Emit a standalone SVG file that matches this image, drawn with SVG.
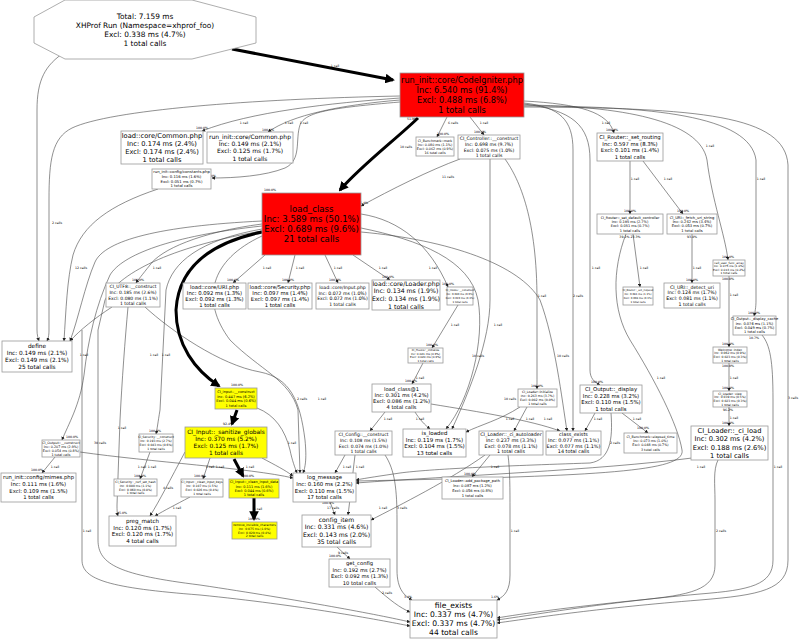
<svg xmlns="http://www.w3.org/2000/svg" width="800" height="639" viewBox="0 0 800 639">
<style>
text{font-family:"DejaVu Sans","Liberation Sans",sans-serif;fill:#000;text-anchor:middle}
.n rect,.n polygon{fill:#fff;stroke:#999;stroke-width:0.8}
.n.red rect{fill:#ff0000}
.n.yel rect{fill:#ffff00}
.e path{fill:none;stroke:#444;stroke-width:0.6;marker-end:url(#a)}
.e path.t{stroke:#000;stroke-width:3;marker-end:url(#b)}
.l text{font-size:3.2px}
</style>
<defs>
<marker id="a" viewBox="0 0 10 10" refX="9" refY="5" markerWidth="6" markerHeight="6" orient="auto"><path d="M0,0L10,5L0,10z" fill="#222"/></marker>
<marker id="b" viewBox="0 0 10 10" refX="8" refY="5" markerWidth="3.2" markerHeight="3.2" orient="auto"><path d="M0,0L10,5L0,10z" fill="#000"/></marker>
</defs>
<rect width="800" height="639" fill="#fff"/>
<g class="e" id="connectors">
<path d="M65,52 C45,65 37,80 37,110 L37,330 C37,335 38,338 39,341"/>
<path d="M400,96 C250,99 110,110 72,128 C52,138 49,160 49,200 L49,330 C49,336 48,339 47,341"/>
<path d="M158,189 C110,205 82,225 73,255 C67,280 66,310 64,341"/>
<path d="M400,98 C330,103 250,112 202,131"/>
<path d="M400,100 C340,105 292,115 268,132"/>
<path d="M400,102 C330,108 305,112 300,125 C295,140 302,160 285,168 C265,176 235,178 212,178"/>
<path d="M447,117 L437,137"/>
<path d="M470,117 L484,135"/>
<path d="M524,101 C580,104 608,112 614,133"/>
<path d="M524,103 C560,107 573,120 573,150 L573,420 C573,425 573,428 573,431"/>
<path d="M524,104 C572,110 590,125 590,160 L590,370 C590,378 594,382 600,385"/>
<path d="M524,105 C620,106 700,120 707,160 C712,200 725,235 728,260"/>
<path d="M524,106 C650,106 750,115 756,160 L756,300 C756,308 755,312 754,316"/>
<path d="M524,107 C700,108 785,115 788,165 L788,560 C788,590 760,595 700,600 C600,608 540,617 497,623"/>
<path d="M762,335 C770,345 773,360 773,400 L773,560 C773,585 750,590 700,594 C600,603 540,614 497,620"/>
<path d="M729,276 L729,347"/>
<path d="M729,363 L729,391"/>
<path d="M729,407 L729,426"/>
<path d="M718,460 C713,470 715,485 715,500 L715,565 C715,590 690,595 640,600 C570,607 520,614 497,618"/>
<path d="M692,458 C600,470 450,476 356,483"/>
<path d="M630,161 L630,214"/>
<path d="M643,161 L683,214"/>
<path d="M633,234 L640,287"/>
<path d="M626,234 C612,270 612,310 630,340 C655,380 678,425 682,450 C686,472 600,476 356,481"/>
<path d="M692,234 L692,283"/>
<path d="M622,413 L648,433"/>
<path d="M595,413 L585,431"/>
<path d="M611,413 C613,440 610,460 590,463 C500,466 430,469 400,473 C380,476 366,478 356,480"/>
<path d="M460,159 C430,170 390,190 361,206"/>
<path d="M490,159 L490,300 C490,340 470,390 452,429"/>
<path d="M505,159 C520,180 537,220 537,300 L537,375 C537,381 537,385 537,389"/>
<path d="M361,228 C420,240 470,260 478,300 C485,340 470,400 446,429"/>
<path d="M361,232 C450,240 520,265 540,300 C555,340 562,400 567,431"/>
<path d="M265,255 L233,283"/>
<path d="M295,255 L288,283"/>
<path d="M325,255 L338,283"/>
<path d="M353,255 L390,280"/>
<path d="M262,224 C200,232 160,250 150,265 C142,275 138,280 136,283"/>
<path d="M262,221 C160,226 105,240 95,262 C85,285 78,320 70,341"/>
<path d="M262,226 C170,236 122,255 110,275 C96,305 88,340 84,375 C80,405 68,425 62,440"/>
<path d="M262,229 C200,240 172,262 166,290 L160,410 C158,422 157,430 156,434"/>
<path d="M262,231 C180,245 120,270 105,300 L98,330 L98,540 C98,565 120,575 200,585 C300,600 380,615 410,622"/>
<path d="M82,330 L82,560 C82,580 110,588 200,595 C300,605 380,620 410,626"/>
<path d="M361,214 C400,220 430,245 448,287"/>
<path d="M458,305 L432,348"/>
<path d="M423,363 L412,384"/>
<path d="M415,412 C420,420 425,425 430,429"/>
<path d="M431,404 C480,412 530,420 560,431"/>
<path d="M385,412 L370,431"/>
<path d="M527,407 L514,431"/>
<path d="M520,407 C500,420 480,425 466,432"/>
<path d="M490,455 L472,477"/>
<path d="M508,455 C510,470 510,490 510,510 L510,575 C510,590 505,596 497,600"/>
<path d="M385,455 C395,470 397,490 397,520 L397,570 C397,590 405,596 412,600"/>
<path d="M355,455 C352,480 350,500 348,515"/>
<path d="M330,502 L335,515"/>
<path d="M337,547 L350,559"/>
<path d="M375,587 C390,600 400,608 410,612"/>
<path d="M210,458 L203,479"/>
<path d="M150,452 L140,479"/>
<path d="M80,452 C150,462 250,468 293,478"/>
<path d="M190,497 C175,505 165,510 155,516"/>
<path d="M55,457 L42,473"/>
<path d="M112,307 C95,318 80,330 70,341"/>
<path d="M128,307 C125,340 122,380 120,420 L117,505 C117,510 117,513 118,516"/>
<path d="M145,307 C170,330 220,365 260,372 C290,378 300,400 305,440 C307,460 305,468 303,473"/>
<path d="M257,408 C275,415 285,430 290,450 C292,460 295,468 297,473"/>
<path d="M262,458 C275,465 285,470 293,476"/>
<path d="M262,236 C210,260 200,300 230,340 C260,370 290,380 298,410 L300,473"/>
<path d="M345,455 L335,473"/>
<path d="M485,455 C450,480 400,505 371,520"/>
<path d="M185,452 C170,480 160,500 150,516"/>
<path class="t" d="M232,49 L393,80"/>
<path class="t" d="M418,118 C395,140 362,165 340,190"/>
<path class="t" d="M262,232 C200,245 178,275 176,310 C176,345 195,370 219,386"/>
<path class="t" d="M237,410 L232,424"/>
<path class="t" d="M234,459 L243,476"/>
<path class="t" d="M254,498 L254,519"/>
</g>
<g class="l" id="edge-labels">
<text x="335" y="67">1 call</text>
<text x="57" y="224">2 calls</text>
<text x="81" y="269">12 calls</text>
<text x="244" y="124">1 call</text>
<text x="289" y="124">1 call</text>
<text x="304" y="124">1 call</text>
<text x="453" y="124">6 calls</text>
<text x="484" y="124">1 call</text>
<text x="606" y="124">1 call</text>
<text x="406" y="148">10 calls</text>
<text x="578" y="297">2 calls</text>
<text x="596" y="269">1 call</text>
<text x="710" y="147">1 call</text>
<text x="761" y="180">1 call</text>
<text x="793" y="399">3 calls</text>
<text x="778" y="468">1 call</text>
<text x="734" y="296">1 call</text>
<text x="734" y="379">1 call</text>
<text x="734" y="419">1 call</text>
<text x="721" y="532">2 calls</text>
<text x="701" y="468">1 call</text>
<text x="635" y="180">1 call</text>
<text x="668" y="180">1 call</text>
<text x="644" y="269">1 call</text>
<text x="661" y="379">1 call</text>
<text x="697" y="269">1 call</text>
<text x="637" y="420">1 call</text>
<text x="598" y="420">1 call</text>
<text x="615" y="444">2 calls</text>
<text x="448" y="178">11 calls</text>
<text x="498" y="326">1 call</text>
<text x="542" y="297">1 call</text>
<text x="478" y="357">10 calls</text>
<text x="563" y="357">10 calls</text>
<text x="510" y="400">10 calls</text>
<text x="267" y="269">1 call</text>
<text x="300" y="269">1 call</text>
<text x="338" y="269">1 call</text>
<text x="383" y="269">1 call</text>
<text x="157" y="269">1 call</text>
<text x="84" y="356">1 call</text>
<text x="154" y="356">1 call</text>
<text x="166" y="356">1 call</text>
<text x="100" y="444">30 calls</text>
<text x="87" y="532">1 call</text>
<text x="433" y="269">1 call</text>
<text x="455" y="326">1 call</text>
<text x="420" y="379">1 call</text>
<text x="420" y="420">1 call</text>
<text x="388" y="420">1 call</text>
<text x="548" y="420">1 call</text>
<text x="530" y="420">1 call</text>
<text x="510" y="420">1 call</text>
<text x="495" y="468">1 call</text>
<text x="515" y="532">1 call</text>
<text x="402" y="509">3 calls</text>
<text x="383" y="509">1 call</text>
<text x="333" y="509">17 calls</text>
<text x="343" y="554">9 calls</text>
<text x="387" y="594">2 calls</text>
<text x="142" y="468">1 call</text>
<text x="152" y="468">1 call</text>
<text x="210" y="468">1 call</text>
<text x="220" y="468">1 call</text>
<text x="250" y="468">1 call</text>
<text x="177" y="509">1 call</text>
<text x="168" y="489">4 calls</text>
<text x="55" y="468">1 call</text>
<text x="122" y="429">1 call</text>
<text x="292" y="444">1 call</text>
<text x="302" y="400">2 calls</text>
<text x="322" y="400">1 call</text>
<text x="347" y="468">1 call</text>
<text x="360" y="468">1 call</text>
<text x="258" y="510">1 call</text>
<text x="202" y="129">100.0%</text>
<text x="268" y="131">100.0%</text>
<text x="210" y="177">100.0%</text>
<text x="443" y="135">100.0%</text>
<text x="480" y="133">100.0%</text>
<text x="612" y="131">100.0%</text>
<text x="630" y="212">100.0%</text>
<text x="683" y="212">100.0%</text>
<text x="630" y="238">39.1% 23.3%</text>
<text x="692" y="238">93.4%</text>
<text x="692" y="281">100.0%</text>
<text x="728" y="258">100.0%</text>
<text x="728" y="280">100.0%</text>
<text x="754" y="314">100.0%</text>
<text x="754" y="339">10.7%</text>
<text x="728" y="345">100.0%</text>
<text x="728" y="367">100.0%</text>
<text x="728" y="389">100.0%</text>
<text x="728" y="411">96.2%</text>
<text x="728" y="424">100.0%</text>
<text x="597" y="383">100.0%</text>
<text x="643" y="429">100.0%</text>
<text x="233" y="281">100.0%</text>
<text x="288" y="281">100.0%</text>
<text x="335" y="281">100.0%</text>
<text x="388" y="278">100.0%</text>
<text x="138" y="281">100.0%</text>
<text x="448" y="285">100.0%</text>
<text x="411" y="382">100.0%</text>
<text x="432" y="346">100.0%</text>
<text x="537" y="387">100.0%</text>
<text x="72" y="438">100.0%</text>
<text x="155" y="432">100.0%</text>
<text x="237" y="386">100.0%</text>
<text x="228" y="425">92.4%</text>
<text x="248" y="477">100.0%</text>
<text x="254" y="520">100.0%</text>
<text x="37" y="471">100.0%</text>
<text x="140" y="477">100.0%</text>
<text x="200" y="477">100.0%</text>
<text x="122" y="514">45.0%</text>
<text x="328" y="504">100.0%</text>
<text x="335" y="557">100.0%</text>
<text x="408" y="598">3.4%</text>
<text x="495" y="598">1.6%</text>
<text x="470" y="475">100.0%</text>
<text x="412" y="120">51.9%</text>
<text x="270" y="191">100.0%</text>
<text x="364" y="204">6.4%</text>
</g>
<g class="n" id="root"><polygon points="65,0 192,0 256,17 256,43 192,59 65,59 34,43 34,17"/>
<text font-size="7.4"><tspan x="145" y="18.6">Total: 7.159 ms</tspan><tspan x="145" y="27.9">XHProf Run (Namespace=xhprof_foo)</tspan><tspan x="145" y="36.9">Excl: 0.338 ms (4.7%)</tspan><tspan x="145" y="45.9">1 total calls</tspan></text></g>
<g class="n red" id="n-codeigniter"><rect x="400" y="73" width="124" height="44"/>
<text font-size="8.2"><tspan x="462" y="83.2">run_init::core/CodeIgniter.php</tspan><tspan x="462" y="93">Inc: 6.540 ms (91.4%)</tspan><tspan x="462" y="102.8">Excl: 0.488 ms (6.8%)</tspan><tspan x="462" y="112.6">1 total calls</tspan></text></g>
<g class="n red" id="n-load_class"><rect x="262" y="193" width="99" height="62"/>
<text font-size="8.6"><tspan x="311.5" y="212">load_class</tspan><tspan x="311.5" y="222">Inc: 3.589 ms (50.1%)</tspan><tspan x="311.5" y="232">Excl: 0.689 ms (9.6%)</tspan><tspan x="311.5" y="242">21 total calls</tspan></text></g>
<g class="n" id="n-load-common"><rect x="121" y="131" width="82" height="33"/>
<text font-size="6.7"><tspan x="162" y="137.8">load::core/Common.php</tspan><tspan x="162" y="145.8">Inc: 0.174 ms (2.4%)</tspan><tspan x="162" y="153.8">Excl: 0.174 ms (2.4%)</tspan><tspan x="162" y="161.8">1 total calls</tspan></text></g>
<g class="n" id="n-run-common"><rect x="207" y="132" width="86" height="31"/>
<text font-size="6"><tspan x="250" y="138.5">run_init::core/Common.php</tspan><tspan x="250" y="145.9">Inc: 0.149 ms (2.1%)</tspan><tspan x="250" y="153.3">Excl: 0.125 ms (1.7%)</tspan><tspan x="250" y="160.7">1 total calls</tspan></text></g>
<g class="n" id="n-constants"><rect x="152" y="169" width="59" height="20"/>
<text font-size="3.8"><tspan x="181.5" y="173.4">run_init::config/constants.php</tspan><tspan x="181.5" y="178">Inc: 0.116 ms (1.6%)</tspan><tspan x="181.5" y="182.6">Excl: 0.051 ms (0.7%)</tspan><tspan x="181.5" y="187.2">1 total calls</tspan></text></g>
<g class="n" id="n-bench-mark"><rect x="416" y="137" width="38" height="19"/>
<text font-size="3.3"><tspan x="435" y="141.7">CI_Benchmark::mark</tspan><tspan x="435" y="145.7">Inc: 0.080 ms (1.1%)</tspan><tspan x="435" y="149.7">Excl: 0.062 ms (0.9%)</tspan><tspan x="435" y="153.7">16 total calls</tspan></text></g>
<g class="n" id="n-controller"><rect x="458" y="135" width="62" height="24"/>
<text font-size="4.6"><tspan x="489" y="140.1">CI_Controller::__construct</tspan><tspan x="489" y="145.8">Inc: 0.698 ms (9.7%)</tspan><tspan x="489" y="151.5">Excl: 0.075 ms (1.0%)</tspan><tspan x="489" y="157.2">1 total calls</tspan></text></g>
<g class="n" id="n-set-routing"><rect x="597" y="133" width="66" height="28"/>
<text font-size="5.3"><tspan x="630" y="139.3">CI_Router::_set_routing</tspan><tspan x="630" y="145.7">Inc: 0.597 ms (8.3%)</tspan><tspan x="630" y="152.1">Excl: 0.101 ms (1.4%)</tspan><tspan x="630" y="158.5">1 total calls</tspan></text></g>
<g class="n" id="n-default-controller"><rect x="597" y="214" width="66" height="20"/>
<text font-size="3.5"><tspan x="630" y="218.8">CI_Router::_set_default_controller</tspan><tspan x="630" y="223.1">Inc: 0.195 ms (2.7%)</tspan><tspan x="630" y="227.4">Excl: 0.051 ms (0.7%)</tspan><tspan x="630" y="231.7">1 total calls</tspan></text></g>
<g class="n" id="n-fetch-uri"><rect x="667" y="214" width="50" height="20"/>
<text font-size="3.7"><tspan x="692" y="218.8">CI_URI::_fetch_uri_string</tspan><tspan x="692" y="223.1">Inc: 0.242 ms (3.4%)</tspan><tspan x="692" y="227.4">Excl: 0.053 ms (0.7%)</tspan><tspan x="692" y="231.7">1 total calls</tspan></text></g>
<g class="n" id="n-cufa"><rect x="713" y="260" width="32" height="16"/>
<text font-size="2.9"><tspan x="729" y="263.6">call_user_func_array</tspan><tspan x="729" y="267.2">Inc: 0.075 ms (1.0%)</tspan><tspan x="729" y="270.8">Excl: 0.013 ms (0.2%)</tspan><tspan x="729" y="274.4">1 total calls</tspan></text></g>
<g class="n" id="n-detect-uri"><rect x="664" y="283" width="56" height="25"/>
<text font-size="4.7"><tspan x="692" y="288.5">CI_URI::_detect_uri</tspan><tspan x="692" y="294.3">Inc: 0.124 ms (1.7%)</tspan><tspan x="692" y="300.1">Excl: 0.081 ms (1.1%)</tspan><tspan x="692" y="305.9">1 total calls</tspan></text></g>
<g class="n" id="n-display-cache"><rect x="733" y="316" width="43" height="19"/>
<text font-size="3.6"><tspan x="754.5" y="320.3">CI_Output::_display_cache</tspan><tspan x="754.5" y="324.6">Inc: 0.076 ms (1.1%)</tspan><tspan x="754.5" y="328.9">Excl: 0.049 ms (0.7%)</tspan><tspan x="754.5" y="333.2">1 total calls</tspan></text></g>
<g class="n" id="n-welcome"><rect x="713" y="347" width="34" height="16"/>
<text font-size="3"><tspan x="730" y="350.5">Welcome::index</tspan><tspan x="730" y="354.2">Inc: 0.062 ms (0.9%)</tspan><tspan x="730" y="357.9">Excl: 0.023 ms (0.3%)</tspan><tspan x="730" y="361.6">1 total calls</tspan></text></g>
<g class="n" id="n-loader-view"><rect x="713" y="391" width="34" height="16"/>
<text font-size="3"><tspan x="730" y="394.5">CI_Loader::view</tspan><tspan x="730" y="398.2">Inc: 0.039 ms (0.5%)</tspan><tspan x="730" y="401.9">Excl: 0.023 ms (0.3%)</tspan><tspan x="730" y="405.6">1 total calls</tspan></text></g>
<g class="n" id="n-ci-load"><rect x="691" y="426" width="77" height="34"/>
<text font-size="6.7"><tspan x="729.5" y="432.9">CI_Loader::_ci_load</tspan><tspan x="729.5" y="441.2">Inc: 0.302 ms (4.2%)</tspan><tspan x="729.5" y="449.5">Excl: 0.188 ms (2.6%)</tspan><tspan x="729.5" y="457.8">1 total calls</tspan></text></g>
<g class="n" id="n-output-display"><rect x="580" y="385" width="62" height="28"/>
<text font-size="5.4"><tspan x="611" y="391.1">CI_Output::_display</tspan><tspan x="611" y="397.6">Inc: 0.228 ms (3.2%)</tspan><tspan x="611" y="404.1">Excl: 0.110 ms (1.5%)</tspan><tspan x="611" y="410.6">1 total calls</tspan></text></g>
<g class="n" id="n-elapsed"><rect x="624" y="433" width="53" height="20"/>
<text font-size="3.3"><tspan x="650.5" y="437.7">CI_Benchmark::elapsed_time</tspan><tspan x="650.5" y="442">Inc: 0.073 ms (1.0%)</tspan><tspan x="650.5" y="446.3">Excl: 0.048 ms (0.7%)</tspan><tspan x="650.5" y="450.6">3 total calls</tspan></text></g>
<g class="n" id="n-class-exists"><rect x="546" y="431" width="55" height="24"/>
<text font-size="4.9"><tspan x="573.5" y="436.2">class_exists</tspan><tspan x="573.5" y="441.9">Inc: 0.077 ms (1.1%)</tspan><tspan x="573.5" y="447.6">Excl: 0.077 ms (1.1%)</tspan><tspan x="573.5" y="453.3">14 total calls</tspan></text></g>
<g class="n" id="n-autoloader"><rect x="479" y="431" width="64" height="24"/>
<text font-size="4.8"><tspan x="511" y="436.1">CI_Loader::_ci_autoloader</tspan><tspan x="511" y="441.8">Inc: 0.237 ms (3.3%)</tspan><tspan x="511" y="447.5">Excl: 0.078 ms (1.1%)</tspan><tspan x="511" y="453.2">1 total calls</tspan></text></g>
<g class="n" id="n-loader-init"><rect x="518" y="389" width="39" height="18"/>
<text font-size="3.2"><tspan x="537.5" y="393.4">CI_Loader::initialize</tspan><tspan x="537.5" y="397.2">Inc: 0.263 ms (3.7%)</tspan><tspan x="537.5" y="401">Excl: 0.002 ms (0.0%)</tspan><tspan x="537.5" y="404.8">1 total calls</tspan></text></g>
<g class="n" id="n-is-loaded"><rect x="403" y="429" width="63" height="28"/>
<text font-size="5.5"><tspan x="434.5" y="434.9">is_loaded</tspan><tspan x="434.5" y="441.6">Inc: 0.119 ms (1.7%)</tspan><tspan x="434.5" y="448.3">Excl: 0.104 ms (1.5%)</tspan><tspan x="434.5" y="455">13 total calls</tspan></text></g>
<g class="n" id="n-load-class-1"><rect x="372" y="384" width="59" height="28"/>
<text font-size="5.2"><tspan x="401.5" y="390.8">load_class@1</tspan><tspan x="401.5" y="396.8">Inc: 0.301 ms (4.2%)</tspan><tspan x="401.5" y="402.8">Excl: 0.086 ms (1.2%)</tspan><tspan x="401.5" y="408.8">4 total calls</tspan></text></g>
<g class="n" id="n-config-construct"><rect x="335" y="431" width="57" height="24"/>
<text font-size="4.5"><tspan x="363.5" y="435.7">CI_Config::__construct</tspan><tspan x="363.5" y="441.6">Inc: 0.108 ms (1.5%)</tspan><tspan x="363.5" y="447.5">Excl: 0.074 ms (1.0%)</tspan><tspan x="363.5" y="453.4">1 total calls</tspan></text></g>
<g class="n yel" id="n-input-construct"><rect x="215" y="388" width="42" height="21"/>
<text font-size="3.6"><tspan x="236" y="393">CI_Input::__construct</tspan><tspan x="236" y="397.5">Inc: 0.447 ms (6.2%)</tspan><tspan x="236" y="402">Excl: 0.044 ms (0.6%)</tspan><tspan x="236" y="406.5">1 total calls</tspan></text></g>
<g class="n yel" id="n-sanitize"><rect x="185" y="427" width="82" height="31"/>
<text font-size="5.9"><tspan x="226" y="434.4">CI_Input::_sanitize_globals</tspan><tspan x="226" y="441.2">Inc: 0.370 ms (5.2%)</tspan><tspan x="226" y="448">Excl: 0.125 ms (1.7%)</tspan><tspan x="226" y="454.8">1 total calls</tspan></text></g>
<g class="n yel" id="n-clean-data"><rect x="229" y="479" width="50" height="19"/>
<text font-size="3.5"><tspan x="254" y="483.3">CI_Input::_clean_input_data</tspan><tspan x="254" y="487.6">Inc: 0.111 ms (1.6%)</tspan><tspan x="254" y="491.9">Excl: 0.044 ms (0.6%)</tspan><tspan x="254" y="496.2">1 total calls</tspan></text></g>
<g class="n yel" id="n-remove-invisible"><rect x="232" y="522" width="45" height="17"/>
<text font-size="3"><tspan x="254.5" y="525.9">remove_invisible_characters</tspan><tspan x="254.5" y="529.7">Inc: 0.075 ms (1.0%)</tspan><tspan x="254.5" y="533.5">Excl: 0.029 ms (0.4%)</tspan><tspan x="254.5" y="537.3">2 total calls</tspan></text></g>
<g class="n" id="n-output-construct"><rect x="42" y="440" width="38" height="17"/>
<text font-size="3.3"><tspan x="61" y="443.8">CI_Output::__construct</tspan><tspan x="61" y="447.7">Inc: 0.207 ms (2.9%)</tspan><tspan x="61" y="451.6">Excl: 0.054 ms (0.8%)</tspan><tspan x="61" y="455.5">1 total calls</tspan></text></g>
<g class="n" id="n-security-construct"><rect x="139" y="434" width="34" height="18"/>
<text font-size="3"><tspan x="156" y="438">CI_Security::__construct</tspan><tspan x="156" y="442">Inc: 0.193 ms (2.7%)</tspan><tspan x="156" y="446">Excl: 0.043 ms (0.6%)</tspan><tspan x="156" y="450">1 total calls</tspan></text></g>
<g class="n" id="n-csrf"><rect x="114" y="479" width="43" height="17"/>
<text font-size="3"><tspan x="135.5" y="482.9">CI_Security::_csrf_set_hash</tspan><tspan x="135.5" y="486.7">Inc: 0.080 ms (1.1%)</tspan><tspan x="135.5" y="490.5">Excl: 0.060 ms (0.8%)</tspan><tspan x="135.5" y="494.3">1 total calls</tspan></text></g>
<g class="n" id="n-clean-keys"><rect x="181" y="479" width="42" height="18"/>
<text font-size="3"><tspan x="202" y="483.2">CI_Input::_clean_input_keys</tspan><tspan x="202" y="487.1">Inc: 0.107 ms (1.5%)</tspan><tspan x="202" y="491">Excl: 0.026 ms (0.4%)</tspan><tspan x="202" y="494.9">1 total calls</tspan></text></g>
<g class="n" id="n-preg-match"><rect x="109" y="516" width="67" height="30"/>
<text font-size="5.6"><tspan x="142.5" y="522.8">preg_match</tspan><tspan x="142.5" y="529.6">Inc: 0.120 ms (1.7%)</tspan><tspan x="142.5" y="536.4">Excl: 0.120 ms (1.7%)</tspan><tspan x="142.5" y="543.2">4 total calls</tspan></text></g>
<g class="n" id="n-mimes"><rect x="1" y="473" width="75" height="29"/>
<text font-size="5.3"><tspan x="38.5" y="479.3">run_init::config/mimes.php</tspan><tspan x="38.5" y="486">Inc: 0.111 ms (1.6%)</tspan><tspan x="38.5" y="492.7">Excl: 0.109 ms (1.5%)</tspan><tspan x="38.5" y="499.4">1 total calls</tspan></text></g>
<g class="n" id="n-log-message"><rect x="293" y="473" width="63" height="29"/>
<text font-size="5.4"><tspan x="324.5" y="479.3">log_message</tspan><tspan x="324.5" y="486">Inc: 0.160 ms (2.2%)</tspan><tspan x="324.5" y="492.7">Excl: 0.110 ms (1.5%)</tspan><tspan x="324.5" y="499.4">17 total calls</tspan></text></g>
<g class="n" id="n-config-item"><rect x="302" y="515" width="69" height="32"/>
<text font-size="6.1"><tspan x="336.5" y="521.9">config_item</tspan><tspan x="336.5" y="529.4">Inc: 0.331 ms (4.6%)</tspan><tspan x="336.5" y="536.9">Excl: 0.143 ms (2.0%)</tspan><tspan x="336.5" y="544.4">35 total calls</tspan></text></g>
<g class="n" id="n-get-config"><rect x="329" y="559" width="61" height="28"/>
<text font-size="5.2"><tspan x="359.5" y="565.1">get_config</tspan><tspan x="359.5" y="571.6">Inc: 0.192 ms (2.7%)</tspan><tspan x="359.5" y="578.1">Excl: 0.092 ms (1.3%)</tspan><tspan x="359.5" y="584.6">10 total calls</tspan></text></g>
<g class="n" id="n-file-exists"><rect x="410" y="600" width="87" height="38"/>
<text font-size="7.6"><tspan x="453.5" y="608.2">file_exists</tspan><tspan x="453.5" y="617.2">Inc: 0.337 ms (4.7%)</tspan><tspan x="453.5" y="626.2">Excl: 0.337 ms (4.7%)</tspan><tspan x="453.5" y="635.2">44 total calls</tspan></text></g>
<g class="n" id="n-add-package"><rect x="442" y="477" width="61" height="22"/>
<text font-size="3.7"><tspan x="472.5" y="482.1">CI_Loader::add_package_path</tspan><tspan x="472.5" y="486.9">Inc: 0.087 ms (1.2%)</tspan><tspan x="472.5" y="491.7">Excl: 0.056 ms (0.8%)</tspan><tspan x="472.5" y="496.5">1 total calls</tspan></text></g>
<g class="n" id="n-utf8"><rect x="106" y="283" width="54" height="24"/>
<text font-size="4.5"><tspan x="133" y="287.9">CI_UTF8::__construct</tspan><tspan x="133" y="293.7">Inc: 0.185 ms (2.6%)</tspan><tspan x="133" y="299.5">Excl: 0.080 ms (1.1%)</tspan><tspan x="133" y="305.3">1 total calls</tspan></text></g>
<g class="n" id="n-uri-php"><rect x="183" y="283" width="63" height="26"/>
<text font-size="5.3"><tspan x="214.5" y="288.6">load::core/URI.php</tspan><tspan x="214.5" y="294.8">Inc: 0.092 ms (1.3%)</tspan><tspan x="214.5" y="301">Excl: 0.092 ms (1.3%)</tspan><tspan x="214.5" y="307.2">1 total calls</tspan></text></g>
<g class="n" id="n-security-php"><rect x="248" y="283" width="64" height="26"/>
<text font-size="5.3"><tspan x="280" y="288.6">load::core/Security.php</tspan><tspan x="280" y="294.8">Inc: 0.097 ms (1.4%)</tspan><tspan x="280" y="301">Excl: 0.097 ms (1.4%)</tspan><tspan x="280" y="307.2">1 total calls</tspan></text></g>
<g class="n" id="n-input-php"><rect x="316" y="283" width="53" height="26"/>
<text font-size="4.6"><tspan x="342.5" y="289">load::core/Input.php</tspan><tspan x="342.5" y="294.7">Inc: 0.072 ms (1.0%)</tspan><tspan x="342.5" y="300.4">Excl: 0.072 ms (1.0%)</tspan><tspan x="342.5" y="306.1">1 total calls</tspan></text></g>
<g class="n" id="n-loader-php"><rect x="372" y="280" width="68" height="30"/>
<text font-size="6.2"><tspan x="406" y="285.8">load::core/Loader.php</tspan><tspan x="406" y="293.4">Inc: 0.134 ms (1.9%)</tspan><tspan x="406" y="301">Excl: 0.134 ms (1.9%)</tspan><tspan x="406" y="308.6">1 total calls</tspan></text></g>
<g class="n" id="n-hooks-construct"><rect x="447" y="287" width="26" height="18"/>
<text font-size="2.6"><tspan x="460" y="291.4">CI_Hooks::__construct</tspan><tspan x="460" y="295.1">Inc: 0.040 ms (0.6%)</tspan><tspan x="460" y="298.8">Excl: 0.019 ms (0.3%)</tspan><tspan x="460" y="302.5">1 total calls</tspan></text></g>
<g class="n" id="n-set-request"><rect x="623" y="287" width="30" height="18"/>
<text font-size="2.6"><tspan x="638" y="291.4">CI_Router::_set_request</tspan><tspan x="638" y="295.1">Inc: 0.081 ms (1.1%)</tspan><tspan x="638" y="298.8">Excl: 0.008 ms (0.1%)</tspan><tspan x="638" y="302.5">1 total calls</tspan></text></g>
<g class="n" id="n-define"><rect x="2" y="341" width="70" height="31"/>
<text font-size="5.8"><tspan x="37" y="347.9">define</tspan><tspan x="37" y="355">Inc: 0.149 ms (2.1%)</tspan><tspan x="37" y="362.1">Excl: 0.149 ms (2.1%)</tspan><tspan x="37" y="369.2">25 total calls</tspan></text></g>
<g class="n" id="n-hooks-init"><rect x="408" y="348" width="35" height="15"/>
<text font-size="2.8"><tspan x="425.5" y="351.2">CI_Hooks::_initialize</tspan><tspan x="425.5" y="354.7">Inc: 0.021 ms (0.3%)</tspan><tspan x="425.5" y="358.2">Excl: 0.020 ms (0.3%)</tspan><tspan x="425.5" y="361.7">1 total calls</tspan></text></g>
</svg>
